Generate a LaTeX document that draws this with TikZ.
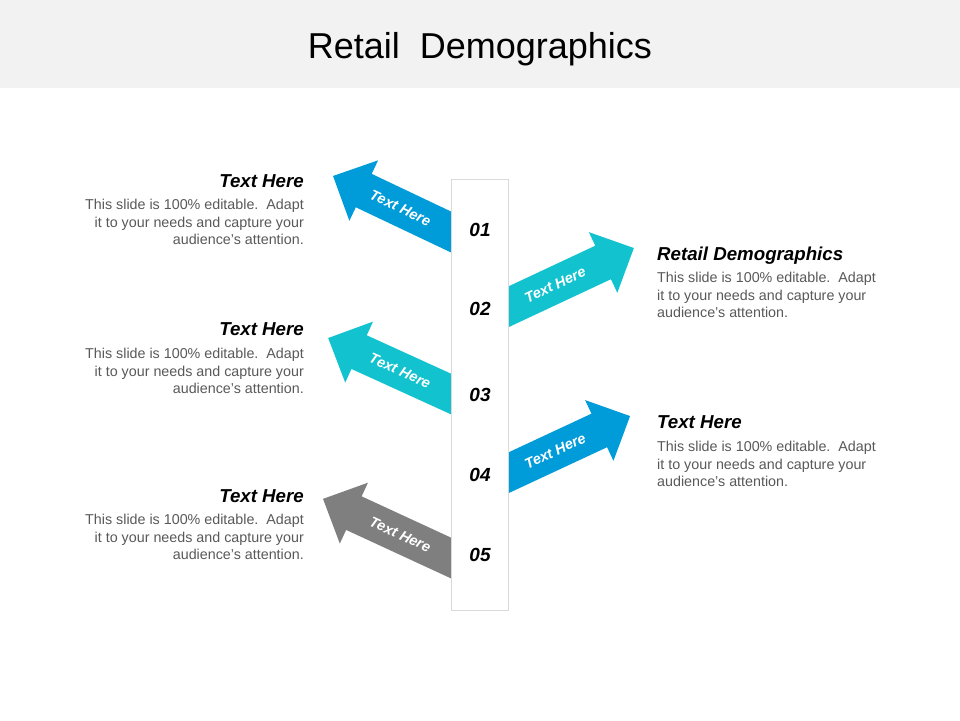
\documentclass[tikz,border=0pt]{standalone}
\usepackage{fontspec}
\setmainfont{Liberation Sans}
\usetikzlibrary{shadows}
\definecolor{arrowblue}{HTML}{009CDA}
\definecolor{arrowcyan}{HTML}{12C3CF}
\definecolor{arrowgray}{HTML}{7F7F7F}
\definecolor{bodygray}{HTML}{595959}
\definecolor{bandgray}{HTML}{F2F2F2}
\definecolor{barline}{HTML}{D9D9D9}
% #1,#2 tail centre; #3 angle; #4 length; #5 colour; #6 text angle; #7 text distance; #8 name
\newcommand{\DemoArrow}[8]{%
  \begin{scope}[shift={(#1,#2)}, rotate=#3]
    \fill[#5] (-12,-18.5) -- (#4-34,-18.5) -- (#4-34,-33.5) -- (#4,0)
      -- (#4-34,33.5) -- (#4-34,18.5) -- (-12,18.5) -- cycle;
    \node[arrowtext, rotate=#6] (#8) at (#7,0) {Text Here};
  \end{scope}}
\begin{document}
\begin{tikzpicture}[x=1pt,y=-1pt,
  arrowtext/.style={inner sep=0pt, text=white, font=\fontsize{14.5}{17}\selectfont\bfseries\itshape},
  headtext/.style={inner sep=0pt, text=black, font=\fontsize{18.7}{21}\selectfont\bfseries\itshape},
  bodytext/.style={inner sep=0pt, text=bodygray, font=\fontsize{14.3}{17.5}\selectfont},
  numtext/.style={inner sep=0pt, text=black, font=\fontsize{19}{22}\selectfont\bfseries\itshape},
  barbox/.style={draw=barline, line width=0.6pt, fill=white, minimum width=57pt, minimum height=431pt, inner sep=0pt,
    drop shadow={shadow xshift=1.2pt, shadow yshift=-1.2pt, fill=black, opacity=0.18}},
]
\useasboundingbox (0,0) rectangle (960,720);
\fill[white] (0,0) rectangle (960,720);
\fill[bandgray] (0,0) rectangle (960,88);
\node[inner sep=0pt, font=\fontsize{36}{40}\selectfont, anchor=base] (title) at (480,58) {Retail\ \ Demographics};

% arrows
\DemoArrow{451}{232}{154.6}{130.6}{arrowblue}{-25.4}{56}{a1}
\DemoArrow{508}{307}{25.1}{139}{arrowcyan}{25.1}{52}{a2}
\DemoArrow{451}{394}{155.5}{135}{arrowcyan}{-24.5}{56}{a3}
\DemoArrow{508}{473}{25.0}{134.7}{arrowblue}{25.0}{52}{a4}
\DemoArrow{451}{558}{155.2}{141}{arrowgray}{-24.8}{56}{a5}

% bar
\node[barbox] (bar) at (479.5,394.5) {};
\node[numtext] (n1) at (480,230) {01};
\node[numtext] (n2) at (480,309) {02};
\node[numtext] (n3) at (480,395) {03};
\node[numtext] (n4) at (480,475) {04};
\node[numtext] (n5) at (480,555) {05};

% left texts
\node[headtext, anchor=base east] (h1) at (304,187.5) {Text Here};
\node[bodytext, anchor=north east, align=right] (b1) at (304,199) {This slide is 100\% editable.\ \ Adapt\\it to your needs and capture your\\audience's attention.};
\node[headtext, anchor=base east] (h3) at (304,335.5) {Text Here};
\node[bodytext, anchor=north east, align=right] (b3) at (304,348) {This slide is 100\% editable.\ \ Adapt\\it to your needs and capture your\\audience's attention.};
\node[headtext, anchor=base east] (h5) at (304,502.5) {Text Here};
\node[bodytext, anchor=north east, align=right] (b5) at (304,514) {This slide is 100\% editable.\ \ Adapt\\it to your needs and capture your\\audience's attention.};

% right texts
\node[headtext, anchor=base west] (h2) at (657,260.5) {Retail Demographics};
\node[bodytext, anchor=north west, align=left] (b2) at (657,272) {This slide is 100\% editable.\ \ Adapt\\it to your needs and capture your\\audience's attention.};
\node[headtext, anchor=base west] (h4) at (657,428.5) {Text Here};
\node[bodytext, anchor=north west, align=left] (b4) at (657,441) {This slide is 100\% editable.\ \ Adapt\\it to your needs and capture your\\audience's attention.};
\end{tikzpicture}
\end{document}
